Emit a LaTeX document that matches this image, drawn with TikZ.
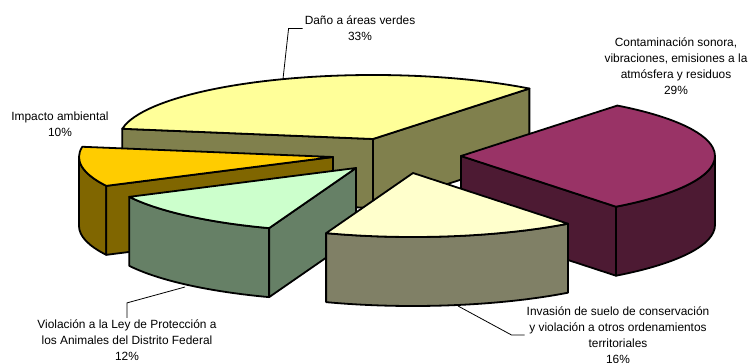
\documentclass[tikz,border=0pt]{standalone}
\usepackage{fontspec}
\setmainfont{Liberation Sans}
\usepackage{tikz}

\definecolor{verdesTop}{RGB}{255,255,153}
\definecolor{verdesSide}{RGB}{128,128,77}
\definecolor{contTop}{RGB}{153,51,102}
\definecolor{contSide}{RGB}{77,26,51}
\definecolor{impTop}{RGB}{255,204,0}
\definecolor{impSide}{RGB}{128,102,0}
\definecolor{animTop}{RGB}{204,255,204}
\definecolor{animSide}{RGB}{102,128,102}
\definecolor{suelTop}{RGB}{255,255,204}
\definecolor{suelSide}{RGB}{128,128,102}

\tikzset{
    pieedge/.style={draw=black, line width=1.8pt, line join=round},
    rim/.style={x radius=254, y radius=64},
    leader/.style={draw=black, line width=0.8pt},
    pielabel/.style={align=center, inner sep=2pt,
        font=\fontsize{11.9}{16}\selectfont}
}

% faces of one slice, apex of the top face at (0,0)
\newcommand{\piecut}[2]{%
    \filldraw[pieedge, fill=#2] (0,0) -- (#1:254 and 64) -- ++(0,-69) -- (0,-69) -- cycle;}
\newcommand{\pieside}[3]{%
    \filldraw[pieedge, fill=#3] (#1:254 and 64) arc[rim, start angle=#1, end angle=#2]
        -- ++(0,-69) arc[rim, start angle=#2, end angle=#1] -- cycle;}
\newcommand{\pietop}[3]{%
    \filldraw[pieedge, fill=#3] (0,0) -- (#1:254 and 64) arc[rim, start angle=#1, end angle=#2] -- cycle;}

\begin{document}
\begin{tikzpicture}[x=1pt, y=1pt]
    \useasboundingbox (0,0) rectangle (751,-363);

    % Danio a areas verdes
    \begin{scope}[shift={(373,-139)}]
        \piecut{52}{verdesSide}
        \piecut{170.8}{verdesSide}
        \pietop{52}{170.8}{verdesTop}
    \end{scope}
    % Contaminacion
    \begin{scope}[shift={(461,-156)}]
        \piecut{-52.4}{contSide}
        \pieside{-52.4}{0}{contSide}
        \pietop{-52.4}{52}{contTop}
    \end{scope}
    % Impacto ambiental
    \begin{scope}[shift={(333,-157)}]
        \pieside{180}{206.8}{impSide}
        \piecut{206.8}{impSide}
        \pietop{170.8}{206.8}{impTop}
    \end{scope}
    % Animales
    \begin{scope}[shift={(356,-168)}]
        \pieside{206.8}{250}{animSide}
        \piecut{250}{animSide}
        \pietop{206.8}{250}{animTop}
    \end{scope}
    % Suelo de conservacion
    \begin{scope}[shift={(413,-173)}]
        \pieside{250}{307.6}{suelSide}
        \pietop{250}{307.6}{suelTop}
    \end{scope}

    % labels
    \node[pielabel] (verdesLbl) at (360,-28.5) {Daño a áreas verdes\\33\%};
    \node[pielabel] (impLbl) at (60,-124) {Impacto ambiental\\10\%};
    \node[pielabel] (contLbl) at (676,-66)
        {Contaminación sonora,\\vibraciones, emisiones a la\\atmósfera y residuos\\29\%};
    \node[pielabel] (suelLbl) at (618,-335)
        {Invasión de suelo de conservación\\y violación a otros ordenamientos\\territoriales\\16\%};
    \node[pielabel] (animLbl) at (127,-340.5)
        {Violación a la Ley de Protección a\\los Animales del Distrito Federal\\12\%};

    % leaders
    \coordinate (verdesTip) at (283,-79);
    \coordinate (suelTip) at (458,-306);
    \coordinate (animTip) at (185,-287);
    \draw[leader] (verdesLbl.west) -- ++(-14,0) -- (verdesTip);
    \draw[leader] (suelLbl.west) -- ++(-13,0) -- (suelTip);
    \draw[leader] (animLbl.north) -- ++(0,15) -- (animTip);
\end{tikzpicture}
\end{document}
